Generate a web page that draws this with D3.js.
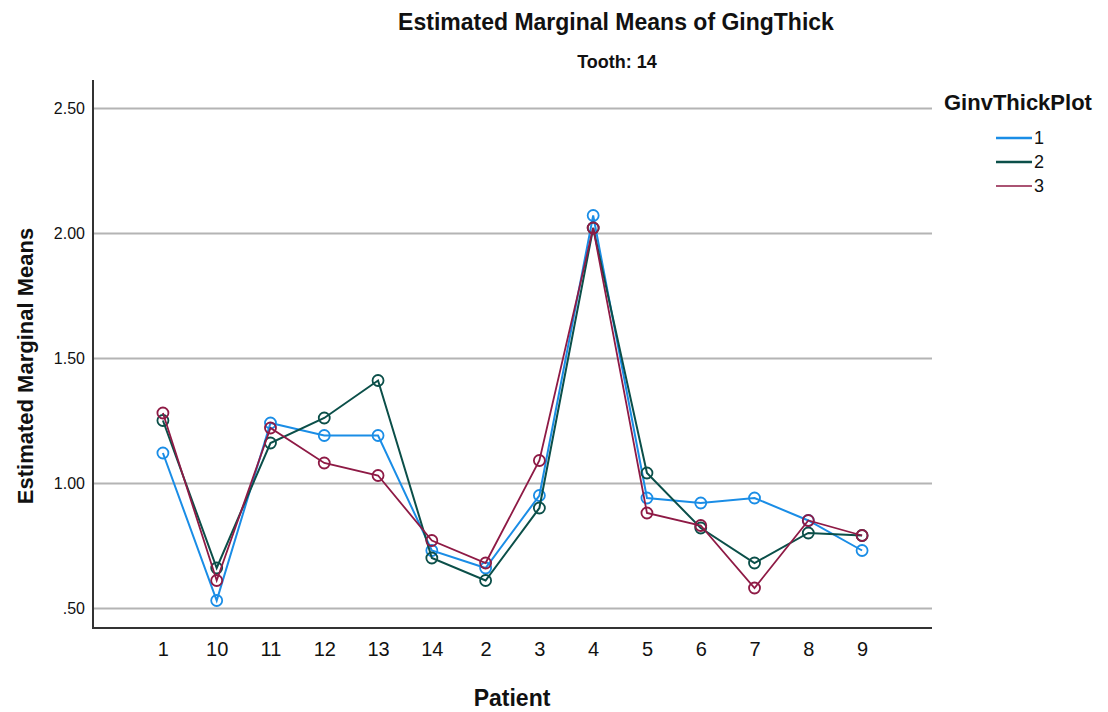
<!DOCTYPE html>
<html>
<head>
<meta charset="utf-8">
<script src="https://cdn.jsdelivr.net/npm/d3@7"></script>
<style>
  body { margin: 0; background: #fff; }
  text { font-family: "Liberation Sans", Arial, sans-serif; fill: #111; }
</style>
</head>
<body>
<div id="container"></div>
<script>
const patients = ["1", "10", "11", "12", "13", "14", "2", "3", "4", "5", "6", "7", "8", "9"];
const groups = ["1", "2", "3"];
const series1 = [1.12, 0.53, 1.24, 1.19, 1.19, 0.73, 0.66, 0.95, 2.07, 0.94, 0.92, 0.94, 0.85, 0.73];
const series2 = [1.25, 0.66, 1.16, 1.26, 1.41, 0.70, 0.61, 0.90, 2.02, 1.04, 0.82, 0.68, 0.80, 0.79];
const series3 = [1.28, 0.61, 1.22, 1.08, 1.03, 0.77, 0.68, 1.09, 2.02, 0.88, 0.83, 0.58, 0.85, 0.79];
const yTicks = [0.5, 1.0, 1.5, 2.0, 2.5];
const yTickLabels = [".50", "1.00", "1.50", "2.00", "2.50"];

const widthSVG = 1108,
    heightSVG = 712,
    plotLeft = 93,
    plotRight = 932,
    plotTop = 80,
    plotBottom = 628;

const colors = ["#1a8de6", "#0b4f49", "#8e1a45"];
const allSeries = [series1, series2, series3];

const svg = d3.select('#container')
    .append('svg')
    .attr('width', widthSVG)
    .attr('height', heightSVG);

const xScale = d3.scalePoint()
    .domain(patients)
    .range([plotLeft, plotRight])
    .padding(1.3);

// domain picked so that .50 and 2.50 land on the gridlines of the picture
const yScale = d3.scaleLinear()
    .domain([0.42, 2.612])
    .range([plotBottom, plotTop]);

// gridlines
svg.append('g')
    .attr('class', 'grid')
    .attr('transform', `translate(${plotLeft},0)`)
    .call(d3.axisRight(yScale).tickValues(yTicks).tickSize(plotRight - plotLeft).tickFormat(''))
    .call(g => g.select('.domain').remove())
    .call(g => g.selectAll('line').attr('stroke', '#b4b4b4').attr('stroke-width', 2));

// y axis labels
svg.append('g')
    .attr('id', 'y-axis')
    .attr('transform', `translate(${plotLeft},0)`)
    .call(d3.axisLeft(yScale).tickValues(yTicks).tickSize(0).tickPadding(8)
        .tickFormat((d, i) => yTickLabels[i]))
    .call(g => g.select('.domain').remove())
    .call(g => g.selectAll('text')
        .attr('font-size', 16)
        .attr('font-family', '"Liberation Sans", Arial, sans-serif')
        .attr('fill', '#111'));

// x axis labels
svg.append('g')
    .attr('id', 'x-axis')
    .attr('transform', `translate(0,${plotBottom})`)
    .call(d3.axisBottom(xScale).tickSize(0).tickPadding(14))
    .call(g => g.select('.domain').remove())
    .call(g => g.selectAll('text')
        .attr('font-size', 20)
        .attr('font-family', '"Liberation Sans", Arial, sans-serif')
        .attr('fill', '#111'));

// axis frame (left + bottom)
svg.append('path')
    .attr('d', `M${plotLeft},${plotTop}V${plotBottom}H${plotRight}`)
    .attr('fill', 'none')
    .attr('stroke', '#333')
    .attr('stroke-width', 2);

// lines + hollow circle markers
const line = d3.line()
    .x((d, i) => xScale(patients[i]))
    .y(d => yScale(d));

allSeries.forEach((s, k) => {
    const g = svg.append('g').attr('class', 'series-' + groups[k]);
    g.append('path')
        .datum(s)
        .attr('d', line)
        .attr('fill', 'none')
        .attr('stroke', colors[k])
        .attr('stroke-width', k === 2 ? 1.8 : 2);
    g.selectAll('circle')
        .data(s)
        .enter()
        .append('circle')
        .attr('cx', (d, i) => xScale(patients[i]))
        .attr('cy', d => yScale(d))
        .attr('r', 5.5)
        .attr('fill', 'none')
        .attr('stroke', colors[k])
        .attr('stroke-width', 1.8);
});

// titles
svg.append('text')
    .attr('x', 616)
    .attr('y', 30)
    .attr('text-anchor', 'middle')
    .attr('font-weight', 'bold')
    .attr('font-size', 23)
    .text('Estimated Marginal Means of GingThick');

svg.append('text')
    .attr('x', 617)
    .attr('y', 68)
    .attr('text-anchor', 'middle')
    .attr('font-weight', 'bold')
    .attr('font-size', 18)
    .text('Tooth: 14');

svg.append('text')
    .attr('x', 512)
    .attr('y', 706)
    .attr('text-anchor', 'middle')
    .attr('font-weight', 'bold')
    .attr('font-size', 23)
    .text('Patient');

svg.append('text')
    .attr('transform', `translate(33,366) rotate(-90)`)
    .attr('text-anchor', 'middle')
    .attr('font-weight', 'bold')
    .attr('font-size', 22)
    .text('Estimated Marginal Means');

// legend
const legend = svg.append('g').attr('id', 'legend');
legend.append('text')
    .attr('x', 944)
    .attr('y', 110)
    .attr('font-weight', 'bold')
    .attr('font-size', 22)
    .text('GinvThickPlot');

const legendY = d3.scalePoint().domain(groups).range([138, 186]);

groups.forEach((gname, k) => {
    legend.append('line')
        .attr('x1', 996)
        .attr('x2', 1032)
        .attr('y1', legendY(gname))
        .attr('y2', legendY(gname))
        .attr('stroke', colors[k])
        .attr('stroke-width', k === 2 ? 1.6 : 2.4);
    legend.append('text')
        .attr('x', 1034)
        .attr('y', legendY(gname) + 6)
        .attr('font-size', 18)
        .text(gname);
});
</script>
</body>
</html>
